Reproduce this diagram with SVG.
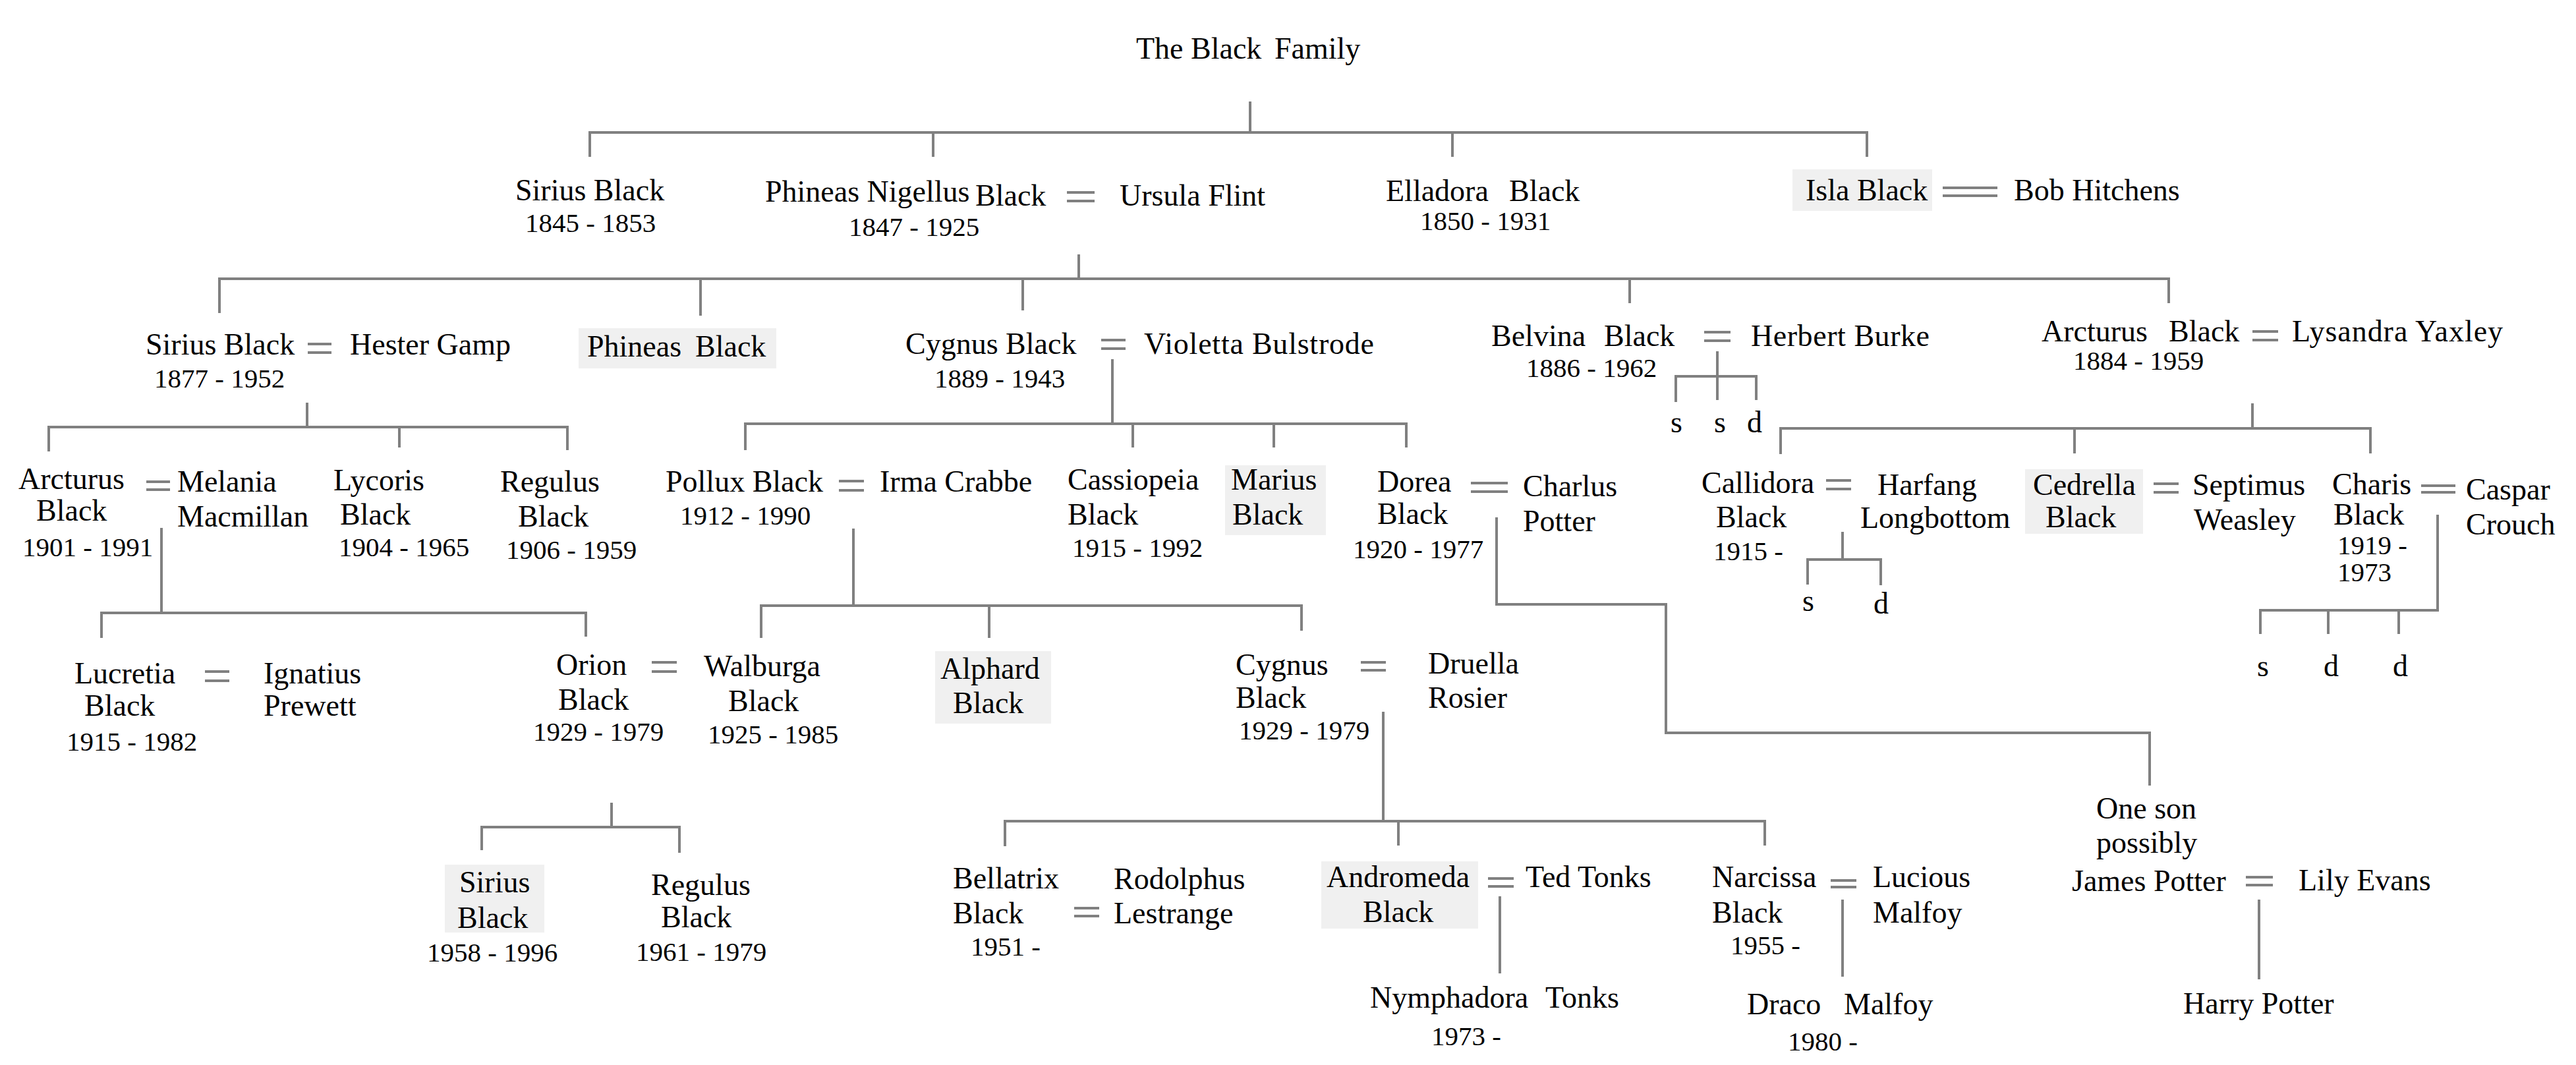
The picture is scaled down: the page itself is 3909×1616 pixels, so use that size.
<svg xmlns="http://www.w3.org/2000/svg" width="3909" height="1616" viewBox="0 0 3909 1616">
<style>
text{font-family:"Liberation Serif","Times New Roman",serif;font-size:46px;fill:#000}
.d{font-size:41px}
.c{stroke:#808080;stroke-width:4;fill:none;stroke-linecap:butt}
.b{fill:#f0f0f0}
</style>
<rect width="3909" height="1616" fill="#fff"/>
<g id="connectors" class="c">
<path d="M1897,154V201M895,238V201H2833V238M1416,201V238M2204,201V238"/>
<path d="M1637,386V423M333,475V423H3291V460M1063,423V479M1552,423V471M2473,423V460"/>
<path d="M466,611V648M74,685V648H861V683M606,648V679"/>
<path d="M245,801V930M154,968V930H889V966"/>
<path d="M1688,545V643M1131,683V643H2134V679M1719,643V679M1933,643V679"/>
<path d="M2606,533V607M2543,610V571H2665V607"/>
<path d="M3418,612V650M2702,689V650H3597V688M3148,650V688"/>
<path d="M2796,807V849M2743,887V849H2854V888"/>
<path d="M3699,781V926H3430V962M3533,926V962M3640,926V962"/>
<path d="M1295,802V919M1155,968V919H1975V957M1501,919V968"/>
<path d="M2271,785V917H2528V1112H3262V1192"/>
<path d="M928,1218V1255M731,1290V1255H1031V1294"/>
<path d="M2099,1080V1246M1525,1284V1246H2678V1283M2122,1246V1283"/>
<path d="M2276,1360V1477M2796,1365V1482M3428,1365V1486"/>
<g id="marriages">
<path d="M1619,292H1661M1619,305H1661"/>
<path d="M2948,285H3031M2948,297H3031"/>
<path d="M467,522H503M467,535H503"/>
<path d="M1671,516H1708M1671,529H1708"/>
<path d="M2586,504H2626M2586,517H2626"/>
<path d="M3418,503H3457M3418,516H3457"/>
<path d="M222,731H258M222,743H258"/>
<path d="M1273,730H1311M1273,744H1311"/>
<path d="M2232,733H2288M2232,746H2288"/>
<path d="M2771,729H2809M2771,742H2809"/>
<path d="M3268,734H3306M3268,747H3306"/>
<path d="M3674,737H3726M3674,747H3726"/>
<path d="M311,1019H348M311,1033H348"/>
<path d="M989,1005H1027M989,1019H1027"/>
<path d="M2065,1005H2103M2065,1017H2103"/>
<path d="M1630,1378H1668M1630,1390H1668"/>
<path d="M2258,1333H2297M2258,1345H2297"/>
<path d="M2778,1336H2817M2778,1346H2817"/>
<path d="M3408,1331H3449M3408,1343H3449"/>
</g>
</g>
<g id="title"><text y="89"><tspan x="1724">The Black </tspan><tspan x="1934">Family</tspan></text></g>
<g id="n_sirius1845"><text x="782" y="304">Sirius Black</text><text class="d" x="797" y="352">1845 - 1853</text></g>
<g id="n_phineas_nigellus"><text x="1161" y="306">Phineas Nigellus</text><text x="1480" y="312">Black</text><text class="d" x="1288" y="358">1847 - 1925</text></g>
<g id="n_ursula"><text x="1699" y="312">Ursula Flint</text></g>
<g id="n_elladora"><text y="305"><tspan x="2103">Elladora </tspan><tspan x="2290">Black</tspan></text><text class="d" x="2155" y="349">1850 - 1931</text></g>
<g id="n_isla"><rect class="b" x="2720" y="257" width="212" height="63"/><text x="2740" y="304">Isla Black</text></g>
<g id="n_bob"><text x="3056" y="304">Bob Hitchens</text></g>
<g id="n_sirius1877"><text x="221" y="538">Sirius Black</text><text class="d" x="234" y="588">1877 - 1952</text></g>
<g id="n_hester"><text x="531" y="538">Hester Gamp</text></g>
<g id="n_phineas"><rect class="b" x="878" y="498" width="300" height="61"/><text y="541"><tspan x="891">Phineas </tspan><tspan x="1055">Black</tspan></text></g>
<g id="n_cygnus1889"><text x="1374" y="537">Cygnus Black</text><text class="d" x="1418" y="588">1889 - 1943</text></g>
<g id="n_violetta"><text x="1736" y="537" textLength="349" lengthAdjust="spacing">Violetta Bulstrode</text></g>
<g id="n_belvina"><text y="525"><tspan x="2263">Belvina </tspan><tspan x="2434">Black</tspan></text><text class="d" x="2316" y="572">1886 - 1962</text></g>
<g id="n_herbert"><text x="2657" y="525" textLength="271" lengthAdjust="spacing">Herbert Burke</text></g>
<g id="n_belvina_children"><text x="2535" y="656">s</text><text x="2601" y="656">s</text><text x="2651" y="656">d</text></g>
<g id="n_arcturus1884"><text y="518"><tspan x="3098">Arcturus </tspan><tspan x="3291">Black</tspan></text><text class="d" x="3146" y="561">1884 - 1959</text></g>
<g id="n_lysandra"><text x="3478" y="518" textLength="320" lengthAdjust="spacing">Lysandra Yaxley</text></g>
<g id="n_arcturus1901"><text x="28" y="742">Arcturus</text><text x="55" y="790">Black</text><text class="d" x="34" y="844">1901 - 1991</text></g>
<g id="n_melania"><text x="269" y="746">Melania</text><text x="269" y="799">Macmillan</text></g>
<g id="n_lycoris"><text x="506" y="744">Lycoris</text><text x="516" y="796">Black</text><text class="d" x="514" y="844">1904 - 1965</text></g>
<g id="n_regulus1906"><text x="759" y="746">Regulus</text><text x="786" y="799">Black</text><text class="d" x="768" y="848">1906 - 1959</text></g>
<g id="n_pollux"><text x="1010" y="746">Pollux Black</text><text class="d" x="1032" y="796">1912 - 1990</text></g>
<g id="n_irma"><text x="1335" y="746">Irma Crabbe</text></g>
<g id="n_cassiopeia"><text x="1620" y="743">Cassiopeia</text><text x="1620" y="796">Black</text><text class="d" x="1627" y="845">1915 - 1992</text></g>
<g id="n_marius"><rect class="b" x="1859" y="706" width="153" height="106"/><text x="1868" y="743">Marius</text><text x="1870" y="796">Black</text></g>
<g id="n_dorea"><text x="2090" y="746">Dorea</text><text x="2090" y="795">Black</text><text class="d" x="2053" y="847">1920 - 1977</text></g>
<g id="n_charlus"><text x="2311" y="753">Charlus</text><text x="2311" y="806">Potter</text></g>
<g id="n_callidora"><text x="2582" y="748">Callidora</text><text x="2604" y="800">Black</text><text class="d" x="2600" y="850">1915 -</text></g>
<g id="n_harfang"><text x="2849" y="751">Harfang</text><text x="2823" y="801">Longbottom</text></g>
<g id="n_callidora_children"><text x="2735" y="927">s</text><text x="2843" y="931">d</text></g>
<g id="n_cedrella"><rect class="b" x="3073" y="712" width="179" height="98"/><text x="3085" y="751">Cedrella</text><text x="3104" y="800">Black</text></g>
<g id="n_septimus"><text x="3327" y="751">Septimus</text><text x="3329" y="804">Weasley</text></g>
<g id="n_charis"><text x="3539" y="750">Charis</text><text x="3541" y="796">Black</text><text class="d" x="3547" y="841">1919 -</text><text class="d" x="3547" y="882">1973</text></g>
<g id="n_caspar"><text x="3742" y="758">Caspar</text><text x="3742" y="811">Crouch</text></g>
<g id="n_charis_children"><text x="3425" y="1026">s</text><text x="3526" y="1026">d</text><text x="3631" y="1026">d</text></g>
<g id="n_lucretia"><text x="113" y="1037">Lucretia</text><text x="128" y="1086">Black</text><text class="d" x="101" y="1139">1915 - 1982</text></g>
<g id="n_ignatius"><text x="400" y="1037">Ignatius</text><text x="400" y="1086">Prewett</text></g>
<g id="n_orion"><text x="844" y="1024">Orion</text><text x="847" y="1077">Black</text><text class="d" x="809" y="1124">1929 - 1979</text></g>
<g id="n_walburga"><text x="1068" y="1026">Walburga</text><text x="1105" y="1079">Black</text><text class="d" x="1074" y="1128">1925 - 1985</text></g>
<g id="n_alphard"><rect class="b" x="1419" y="988" width="176" height="110"/><text x="1427" y="1030">Alphard</text><text x="1446" y="1082">Black</text></g>
<g id="n_cygnus1929"><text x="1875" y="1024">Cygnus</text><text x="1875" y="1074">Black</text><text class="d" x="1880" y="1122">1929 - 1979</text></g>
<g id="n_druella"><text x="2167" y="1022">Druella</text><text x="2167" y="1074">Rosier</text></g>
<g id="n_james"><text x="3181" y="1242">One son</text><text x="3181" y="1294">possibly</text><text x="3144" y="1352">James Potter</text></g>
<g id="n_lily"><text x="3488" y="1351">Lily Evans</text></g>
<g id="n_sirius1958"><rect class="b" x="675" y="1312" width="151" height="103"/><text x="697" y="1354">Sirius</text><text x="694" y="1408">Black</text><text class="d" x="648" y="1459">1958 - 1996</text></g>
<g id="n_regulus1961"><text x="988" y="1358">Regulus</text><text x="1003" y="1407">Black</text><text class="d" x="965" y="1458">1961 - 1979</text></g>
<g id="n_bellatrix"><text x="1446" y="1348">Bellatrix</text><text x="1446" y="1401">Black</text><text class="d" x="1473" y="1450">1951 -</text></g>
<g id="n_rodolphus"><text x="1690" y="1349">Rodolphus</text><text x="1690" y="1401">Lestrange</text></g>
<g id="n_andromeda"><rect class="b" x="2005" y="1307" width="238" height="102"/><text x="2013" y="1346">Andromeda</text><text x="2068" y="1399">Black</text></g>
<g id="n_ted"><text x="2315" y="1346">Ted Tonks</text></g>
<g id="n_narcissa"><text x="2598" y="1346">Narcissa</text><text x="2598" y="1400">Black</text><text class="d" x="2626" y="1448">1955 -</text></g>
<g id="n_lucious"><text x="2842" y="1346">Lucious</text><text x="2842" y="1400">Malfoy</text></g>
<g id="n_nymphadora"><text y="1529"><tspan x="2079">Nymphadora </tspan><tspan x="2345">Tonks</tspan></text><text class="d" x="2172" y="1586">1973 -</text></g>
<g id="n_draco"><text y="1539"><tspan x="2651">Draco </tspan><tspan x="2798">Malfoy</tspan></text><text class="d" x="2713" y="1594">1980 -</text></g>
<g id="n_harry"><text x="3313" y="1538">Harry Potter</text></g>
</svg>
